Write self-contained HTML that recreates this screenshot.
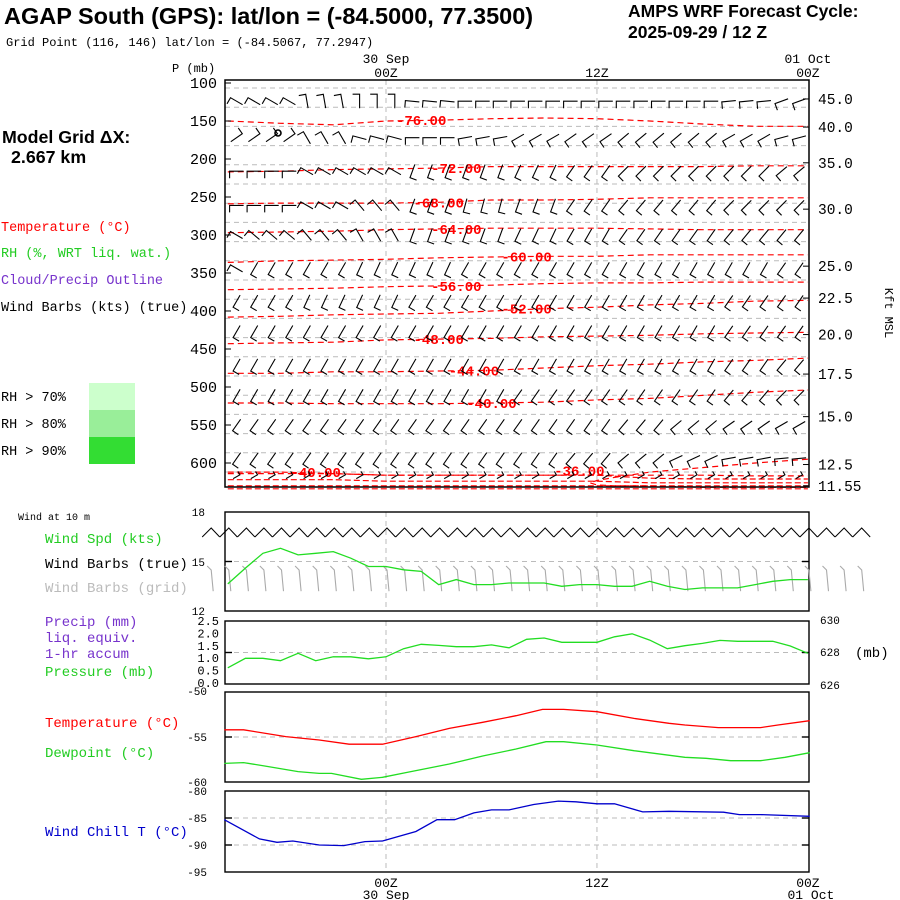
<!DOCTYPE html>
<html><head><meta charset="utf-8"><style>
body{margin:0;background:#fff}
svg{display:block}
text{font-family:"Liberation Mono","DejaVu Sans Mono",monospace}
.sans{font-family:"Liberation Sans",sans-serif;font-weight:bold}
</style></head><body>
<svg id="chart" width="900" height="900" viewBox="0 0 900 900" xmlns="http://www.w3.org/2000/svg">
<rect width="900" height="900" fill="#fff"/>
<text class="sans" x="4" y="24" font-size="23.5">AGAP South (GPS):  lat/lon = (-84.5000, 77.3500)</text>
<text x="6" y="46" font-size="12">Grid Point (116, 146) lat/lon = (-84.5067, 77.2947)</text>
<text class="sans" x="628" y="17" font-size="17.5">AMPS WRF Forecast Cycle:</text>
<text class="sans" x="628" y="38" font-size="17.5">2025-09-29 / 12  Z</text>
<text class="sans" x="2" y="143" font-size="17.8">Model Grid ΔX:</text>
<text class="sans" x="11" y="163" font-size="17.8">2.667 km</text>
<g font-size="13.5">
<text x="1" y="231" fill="#f00">Temperature (°C)</text>
<text x="1" y="257" fill="#2c2">RH (%, WRT liq. wat.)</text>
<text x="1" y="284" fill="#73c">Cloud/Precip Outline</text>
<text x="1" y="311" fill="#000">Wind Barbs (kts) (true)</text>
<text x="1" y="401">RH &gt; 70%</text>
<text x="1" y="428">RH &gt; 80%</text>
<text x="1" y="455">RH &gt; 90%</text>
</g>
<rect x="89" y="383" width="46" height="27" fill="#ccffcc"/>
<rect x="89" y="410" width="46" height="27" fill="#99ee99"/>
<rect x="89" y="437" width="46" height="27" fill="#33dd33"/>
<text x="18" y="520" font-size="10">Wind at 10 m</text>
<g font-size="14">
<text x="45" y="543" fill="#2c2">Wind Spd (kts)</text>
<text x="45" y="568" fill="#000">Wind Barbs (true)</text>
<text x="45" y="592" fill="#bbb">Wind Barbs (grid)</text>
<text x="45" y="626" fill="#73c">Precip (mm)</text>
<text x="45" y="642" fill="#73c">liq. equiv.</text>
<text x="45" y="658" fill="#73c"> 1-hr accum</text>
<text x="45" y="676" fill="#2c2">Pressure (mb)</text>
<text x="45" y="727" fill="#f00">Temperature (°C)</text>
<text x="45" y="757" fill="#2c2">Dewpoint (°C)</text>
<text x="45" y="836" fill="#00c">Wind Chill T (°C)</text>
</g>
<g id="plots"></g>
</svg>
<script>
// ---------- data ----------
const pLevelTicks=[100,150,200,250,300,350,400,450,500,550,600];
const kftLabels=["45.0","40.0","35.0","30.0","25.0","22.5","20.0","17.5","15.0","12.5","11.55"];
const kftPressures=[121,158,205,266,341,383,431,483,539,602,630];
const barbTimes=[-9,-6,-3,0,3,6,9,12,15,18,21,24];
const barbRowPressures=[124,172,216,261,300,344,387,427,471,511,550,594,618];
const barbRowDirs=[
[300,300,350,0,275,270,270,270,270,270,265,250],
[55,55,330,285,270,260,240,235,230,230,240,255],
[270,270,300,300,200,200,205,215,225,225,225,230],
[270,270,300,320,200,195,200,215,220,220,225,225],
[300,310,320,330,200,200,205,210,215,215,220,220],
[300,210,210,205,205,210,210,210,210,210,210,215],
[210,210,205,205,210,210,210,210,210,210,215,215],
[210,210,210,210,210,210,210,210,210,210,215,215],
[210,210,210,210,210,210,210,210,210,210,215,220],
[210,210,210,210,210,210,215,215,215,215,220,225],
[215,215,215,215,215,215,215,215,220,230,235,240],
[215,215,215,215,215,215,215,220,230,245,260,265],
[60,60,60,60,60,60,60,60,60,60,60,60]];
const isoTimes=[-9,-6,-3,0,3,6,9,12,15,18,21,24];
const isoTemps=["-76.00","-72.00","-68.00","-64.00","-60.00","-56.00","-52.00","-48.00","-44.00","-40.00"];
const isoPressures=[
[150,153,155,150,149,147,146,147,150,154,157,157],
[217,216,214,213,212,210,210,210,210,210,209,209],
[259,258,258,258,257,254,254,253,251,251,251,251],
[297,296,295,293,292,291,291,291,292,293,293,293],
[336,334,333,332,330,329,328,328,326,326,326,326],
[372,371,370,368,367,366,364,363,363,362,362,362],
[408,407,405,404,403,400,397,395,392,390,387,386],
[443,442,441,438,437,436,434,433,432,430,429,428],
[482,482,480,480,479,478,475,472,470,467,465,462],
[521,521,522,522,522,521,520,517,515,511,507,504]];
const isoLabelTimes=[2,4,3,4,8,4,8,3,5,6,-4,11];
const warmTimes=[24,21,18,15,13,12,11.6,12,13,15,18,21,24];
const warmPressures=[595,600,606,612,619,623,626,629,630,630,632,632,632];
const sfcIsoPressures=[[612,612,614,616,616,616,616,616,620,621,621,621],[622,622,622,624,624,624,624,624,626,626,626,626],[630,630,630,630,630,630,630,630,630,630,630,630],[634,634,634,634,634,634,634,634,634,634,634,634]];
const hours=[-9,-8,-7,-6,-5,-4,-3,-2,-1,0,1,2,3,4,5,6,7,8,9,10,11,12,13,14,15,16,17,18,19,20,21,22,23,24];
const windSpd=[13.64,14.6,15.5,15.8,15.4,15.5,15.6,15.2,14.7,14.7,14.5,14.4,13.6,13.9,13.6,13.6,13.7,13.7,13.7,13.5,13.6,13.6,13.5,13.5,13.8,13.5,13.3,13.4,13.4,13.4,13.6,13.8,13.9,13.9];
const sfcPres=[627.03,627.63,627.63,627.48,627.95,627.48,627.73,627.73,627.6,627.73,628.24,628.52,628.45,628.37,628.37,628.48,628.3,628.84,628.92,628.65,628.65,628.65,629.0,629.19,628.79,628.24,628.43,628.58,628.77,628.71,628.71,628.71,628.41,627.95];
const tTimes=[-9.2,-8.1,-5.7,-3.8,-2.1,-0.2,1.7,3.6,5.5,7.4,8.9,10.1,12,14.1,16.1,17,18.9,21.3,22.3,24.1];
const tVals=[-54.2,-54.2,-54.96,-55.33,-55.8,-55.8,-54.96,-54.04,-53.37,-52.63,-51.93,-51.93,-52.19,-52.93,-53.48,-53.67,-53.96,-53.96,-53.67,-53.19];
const tdTimes=[-9.2,-8.1,-6.9,-5.0,-3.8,-3.1,-1.4,-0.2,1.2,3.6,5.5,7.4,9.1,10.1,12,14.1,17,18.2,19.6,21.3,22.7,24.1];
const tdVals=[-57.93,-57.85,-58.22,-58.85,-59.04,-59.04,-59.7,-59.48,-58.93,-58.0,-57.11,-56.33,-55.52,-55.52,-55.89,-56.52,-57.26,-57.37,-57.63,-57.63,-57.26,-56.74];
const wcTimes=[-9.2,-7.2,-6.2,-5.3,-3.8,-2.4,-1.2,-0.2,1.7,2.9,3.9,5.0,6.0,7.0,8.4,9.8,10.8,12.0,13.0,14.6,16.1,19.2,20.1,21.3,24.1];
const wcVals=[-85.31,-88.87,-89.5,-89.25,-90.0,-90.12,-89.37,-89.25,-87.5,-85.31,-85.31,-84.06,-83.5,-83.5,-82.5,-81.87,-82.0,-82.37,-82.37,-83.87,-83.75,-83.93,-84.37,-84.37,-84.68];
const barbs10Hours=[-10,-9,-8,-7,-6,-5,-4,-3,-2,-1,0,1,2,3,4,5,6,7,8,9,10,11,12,13,14,15,16,17,18,19,20,21,22,23,24,25,26,27];

// ---------- scales ----------
const X=h=>386+h*17.58;
const YP=p=>83+(p-100)*0.76;
const X0=225,X1=809;
const NS="http://www.w3.org/2000/svg";
const root=document.getElementById('plots');
function el(tag,attrs,parent){const e=document.createElementNS(NS,tag);for(const k in attrs)e.setAttribute(k,attrs[k]);(parent||root).appendChild(e);return e;}
function txt(s,x,y,size,anchor,fill,parent){const t=el('text',{x:x,y:y,'font-size':size,'text-anchor':anchor||'start',fill:fill||'#000'},parent);t.textContent=s;return t;}
function poly(pts,stroke,dash,w){return el('polyline',{points:pts.map(p=>p[0].toFixed(1)+','+p[1].toFixed(1)).join(' '),fill:'none',stroke:stroke,'stroke-width':w||1,'stroke-dasharray':dash||'none'});}
const gd='5,4';

// ---------- main panel ----------
const mainTop=80,mainBot=487;
for(let y=88;y<mainBot-3;y+=19.2){const g=el('line',{x1:X0,x2:X1,y1:y,y2:y,stroke:'#bbb','stroke-dasharray':gd});}
[0,12].forEach(h=>{const g=el('line',{x1:X(h),x2:X(h),y1:mainTop,y2:mainBot,stroke:'#bbb','stroke-dasharray':gd});});

isoPressures.forEach((row,i)=>{
  const l=poly(row.map((p,j)=>[X(isoTimes[j]),YP(p)]),'#f00','6,4',1.2);
  
  
});
{const l=poly(warmTimes.map((t,j)=>[X(t),YP(warmPressures[j])]),'#f00','6,4',1.2);

}
{const low=[622,622,622,624,624,624,624,624,624,624,625,625];
const l=poly(low.map((p,j)=>[X(isoTimes[j]),YP(p-8)]),'#f00','6,4',1.2);

}
sfcIsoPressures.forEach(row=>{
  const l=poly(row.map((p,j)=>[X(isoTimes[j]),YP(p)]),'#f00','6,3',1.2);
  
  
});
function isoLabel(s,t,p){const tx=txt(s,X(t),YP(p)+5,14,'middle','#f00');tx.setAttribute('font-weight','bold');

}
isoTemps.forEach((s,i)=>{const t=isoLabelTimes[i];const j=Math.round((t+9)/3);isoLabel(s,t,isoPressures[i][Math.min(11,Math.max(0,j))]);});
isoLabel("-40.00",isoLabelTimes[10],612);
isoLabel("-36.00",isoLabelTimes[11],610);

function barb(x,y,dir,scale,color,parent){
  const r=dir*Math.PI/180, L=14*scale, B=7*scale;
  const ex=x+Math.sin(r)*L, ey=y-Math.cos(r)*L;
  const r2=r-Math.PI/2;
  const bx=ex+Math.sin(r2)*B, by=ey-Math.cos(r2)*B;
  return el('path',{d:`M${x.toFixed(1)},${y.toFixed(1)}L${ex.toFixed(1)},${ey.toFixed(1)}L${bx.toFixed(1)},${by.toFixed(1)}`,fill:'none',stroke:color||'#000','stroke-width':1.1},parent);
}
barbRowPressures.forEach((p,ri)=>{
  const dirs=barbRowDirs[ri];
  for(let h=-8.5;h<=23.6;h+=1.0){
    const j=Math.min(11,Math.max(0,Math.round((h+9)/3)));
    const d=dirs[j];
    const cy=YP(p), cx=X(h);
    const sc=ri===12?0.55:1;
    const r=d*Math.PI/180;
    const b=barb(cx-Math.sin(r)*7*sc,cy+Math.cos(r)*7*sc,d,sc,'#000');
    
    
  }
});
{const c=el('circle',{cx:278,cy:133,r:3,fill:'none',stroke:'#000','stroke-width':1.6});}
{const f=el('rect',{x:X0,y:mainTop,width:X1-X0,height:mainBot-mainTop,fill:'none',stroke:'#000','stroke-width':1.5});}
txt("P (mb)",172,72,12,'start');
pLevelTicks.forEach(p=>{const t=txt(String(p),217,YP(p)+5,15,'end');el('line',{x1:X0,x2:X0+6,y1:YP(p),y2:YP(p),stroke:'#000'});});
kftLabels.forEach((s,i)=>{const y=YP(kftPressures[i]);const t=txt(s,818,y+5,14.5,'start');el('line',{x1:X1,x2:X1-6,y1:y,y2:y,stroke:'#000'});});
{const t=txt("Kft MSL",0,0,12,'middle');t.setAttribute('transform','translate(885,313) rotate(90)');}
txt("30 Sep",X(0),63,13,'middle');txt("00Z",X(0),77,13,'middle');
txt("12Z",X(12),77,13,'middle');
txt("01 Oct",X(24),63,13,'middle');txt("00Z",X(24),77,13,'middle');

// ---------- lower panels ----------
function panel(name,top,bot,lo,hi,grids){
  const Y=v=>bot-(v-lo)/(hi-lo)*(bot-top);
  grids.forEach(v=>{const g=el('line',{x1:X0,x2:X1,y1:Y(v),y2:Y(v),stroke:'#bbb','stroke-dasharray':gd});
    el('line',{x1:X0,x2:X0+7,y1:Y(v),y2:Y(v),stroke:'#000','stroke-width':1.4});el('line',{x1:X1-7,x2:X1,y1:Y(v),y2:Y(v),stroke:'#000','stroke-width':1.4});});
  [0,12].forEach(h=>el('line',{x1:X(h),x2:X(h),y1:top,y2:bot,stroke:'#bbb','stroke-dasharray':gd}));
  const f=el('rect',{x:X0,y:top,width:X1-X0,height:bot-top,fill:'none',stroke:'#000','stroke-width':1.4});
  
  
  return Y;
}
const YW=panel('wind-panel',512,611,12,18,[15]);
txt("18",205,516,11,'end');txt("15",205,566,11,'end');txt("12",205,615,11,'end');
barbs10Hours.forEach(h=>{
  const x=X(h)-8;
  const b=el('path',{d:`M${x.toFixed(1)},537L${(x+9).toFixed(1)},528L${(x+17.5).toFixed(1)},537`,fill:'none',stroke:'#000','stroke-width':1});
  
  
  const gx=X(h);
  const g=el('path',{d:`M${(gx+3).toFixed(1)},${(YW(13.2)).toFixed(1)}L${(gx+1).toFixed(1)},570L${(gx-3).toFixed(1)},566`,fill:'none',stroke:'#aaa','stroke-width':1.1});
  
  
});
{const l=poly(hours.map((h,i)=>[X(h),YW(windSpd[i])]),'#2d2',null,1.3);}
const YPr=panel('precip-panel',621,684,626,630,[628]);
["2.5","2.0","1.5","1.0","0.5","0.0"].forEach((s,i)=>txt(s,219,625+i*12.4,12,'end'));
txt("630",820,624,11,'start');txt("628",820,656,11,'start');txt("626",820,689,11,'start');
txt("(mb)",855,657,14,'start');
{const l=poly(hours.map((h,i)=>[X(h),YPr(sfcPres[i])]),'#2d2',null,1.3);}
const YT=panel('temp-panel',692,782,-60,-50,[-55]);
txt("-50",207,695,11,'end');txt("-55",207,741,11,'end');txt("-60",207,786,11,'end');
{const l=poly(tTimes.map((h,i)=>[X(h),YT(tVals[i])]),'#f00',null,1.3);}
{const l=poly(tdTimes.map((h,i)=>[X(h),YT(tdVals[i])]),'#2d2',null,1.3);}
const YC=panel('wind-chill-panel',791,872,-95,-80,[-85,-90]);
txt("-80",207,795,11,'end');txt("-85",207,822,11,'end');txt("-90",207,849,11,'end');txt("-95",207,876,11,'end');
{const l=poly(wcTimes.map((h,i)=>[X(h),YC(wcVals[i])]),'#00c',null,1.3);}
txt("00Z",X(0),887,13,'middle');txt("30 Sep",X(0),899,13,'middle');
txt("12Z",X(12),887,13,'middle');
txt("00Z",X(24),887,13,'middle');txt("01 Oct",X(24)+3,899,13,'middle');
</script>
</body></html>
